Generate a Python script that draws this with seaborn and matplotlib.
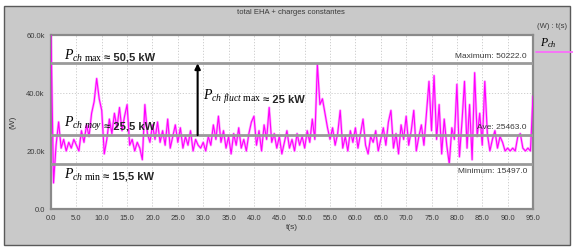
import numpy as np
import matplotlib
matplotlib.use("Agg")
import matplotlib.pyplot as plt
import seaborn as sns
from matplotlib.patches import Rectangle

# charge power P_ch (kW), one sample every 0.5 s
p_ch_kw = [
    60, 9, 22, 30, 21, 24, 20, 23, 21, 24,
    22, 20, 27, 23, 29, 25, 33, 37, 45, 38,
    34, 19, 24, 31, 26, 33, 28, 35, 27, 32,
    36, 22, 24, 20, 23, 21, 17, 36, 26, 23,
    29, 24, 30, 23, 27, 22, 31, 21, 25, 29,
    23, 28, 21, 25, 22, 27, 20, 24, 22, 21,
    23, 20, 25, 22, 29, 24, 32, 23, 27, 21,
    25, 19, 26, 22, 28, 21, 24, 20, 26, 30,
    32, 22, 27, 20, 29, 24, 35, 23, 26, 21,
    25, 19, 23, 27, 21, 24, 20, 26, 22, 25,
    21, 27, 23, 31, 24, 50, 36, 38, 33, 28,
    24, 28, 22, 26, 34, 21, 25, 20, 27, 23,
    28, 21, 26, 31, 22, 19, 25, 23, 27, 20,
    24, 28, 22, 30, 34, 21, 26, 19, 29, 24,
    32, 22, 27, 34, 20, 25, 29, 22, 33, 44,
    27, 46, 24, 36, 19, 31, 22, 15.5, 28, 24,
    43, 18, 30, 44, 21, 36, 17, 47, 25, 33,
    22, 44, 26, 20, 24, 27, 21, 25, 23, 20,
    21, 20, 21, 20, 25, 26, 21, 20, 21, 20,
    39,
]
t_s = np.arange(len(p_ch_kw)) * 0.5

# statistics shown on the chart
p_max = 50222.0
p_ave = 25463.0
p_min = 15497.0

x_ticks = np.arange(0, 96, 5)
x_labels = [f"{v:.1f}" for v in x_ticks]
y_ticks = [0, 20000, 40000, 60000]
y_labels = ["0.0", "20.0k", "40.0k", "60.0k"]

sns.set_style("white")
plt.rcParams["font.family"] = ["Liberation Sans", "DejaVu Sans"]
plt.rcParams["mathtext.fontset"] = "custom"
plt.rcParams["mathtext.it"] = "Liberation Serif:italic"
plt.rcParams["mathtext.rm"] = "Liberation Serif"
plt.rcParams["mathtext.bf"] = "Liberation Serif:bold"

W, H = 573, 248
fig = plt.figure(figsize=(W / 100, H / 100), dpi=100, facecolor="white")

# grey panel behind everything
fig.patches.append(Rectangle((4 / W, 1 - 245 / H), 566 / W, 239 / H,
                             transform=fig.transFigure, facecolor="#c9c9c9",
                             edgecolor="#5a5a5a", linewidth=1.0, zorder=-5))

ax = fig.add_axes([51 / W, 1 - 209 / H, 482 / W, 174 / H])
ax.set_facecolor("white")

# soft halo + main trace
sns.lineplot(x=t_s, y=np.array(p_ch_kw) * 1000, ax=ax, color="#ffa8ff",
             linewidth=1.8, zorder=2)
sns.lineplot(x=t_s, y=np.array(p_ch_kw) * 1000, ax=ax, color="#ff00ff",
             linewidth=0.8, zorder=3)

for v in (p_max, p_ave, p_min):
    ax.axhline(v, color="#9a9a9a", linewidth=2.0, zorder=4)

ax.set_xlim(0, 95)
ax.set_ylim(0, 60000)
ax.set_xticks(x_ticks)
ax.set_xticklabels(x_labels)
ax.set_yticks(y_ticks)
ax.set_yticklabels(y_labels)
ax.tick_params(axis="both", labelsize=5.5, labelcolor="#3a3a3a", color="#555555",
               length=3, width=0.8, direction="out", pad=1.5)
ax.grid(True, color="#c8c8c8", linestyle=(0, (1.5, 2)), linewidth=0.6, zorder=1)
for side, sp in ax.spines.items():
    sp.set_color("#8a8a8a")
    sp.set_linewidth(1.6)
ax.set_xlabel("t(s)", fontsize=6, color="#3a3a3a", labelpad=1)
ax.set_ylabel("(W)", fontsize=6, color="#3a3a3a", labelpad=7)

# statistic labels
ax.text(93.8, p_max + 1200, "Maximum: 50222.0", fontsize=6, color="#3a3a3a",
        ha="right", va="bottom", zorder=5)
ax.text(93.8, p_ave + 1500, "Ave: 25463.0", fontsize=6, color="#3a3a3a",
        ha="right", va="bottom", zorder=5)
ax.text(93.8, p_min - 1500, "Minimum: 15497.0", fontsize=6, color="#3a3a3a",
        ha="right", va="top", zorder=5)

# arrow for the fluctuation amplitude
ax.annotate("", xy=(28.9, p_max), xytext=(28.9, p_ave),
            arrowprops=dict(arrowstyle="-|>", color="black", lw=1.5,
                            mutation_scale=8, shrinkA=0, shrinkB=0), zorder=6)

notes = [
    (2.6, 51400, r"$P_{ch\ \mathrm{max}}$", " \u2248 50,5 kW"),
    (2.6, 28400, r"$P_{ch\ moy}$", " \u2248 25,5 kW"),
    (2.6, 10400, r"$P_{ch\ \mathrm{min}}$", " \u2248 15,5 kW"),
    (30.0, 37600, r"$P_{ch\ fluct\ \mathrm{max}}$", " \u2248 25 kW"),
]
for x, y, sym, val in notes:
    t1 = ax.text(x, y, sym, fontsize=10, color="black", va="baseline", zorder=7)
    ax.annotate(val, xy=(1, 0), xycoords=t1, xytext=(-1, 2.2),
                textcoords="offset points", fontsize=8, fontweight="bold",
                va="baseline", ha="left", zorder=7)

# title and legend text in the grey panel
fig.text(291 / W, 1 - 12 / H, "total EHA + charges constantes", fontsize=5.5,
         color="#3a3a3a", ha="center", va="center")
fig.text(552 / W, 1 - 26 / H, "(W) : t(s)", fontsize=5.5, color="#3a3a3a",
         ha="center", va="center")
fig.text(540 / W, 1 - 46 / H, r"$P_{ch}$", fontsize=8.5, color="black",
         ha="left", va="baseline")
fig.add_artist(plt.Line2D([536 / W, 573 / W], [1 - 52 / H, 1 - 52 / H],
                          transform=fig.transFigure, color="#ff66ff", linewidth=1.2))

fig.savefig("out.png", dpi=100, facecolor=fig.get_facecolor())
